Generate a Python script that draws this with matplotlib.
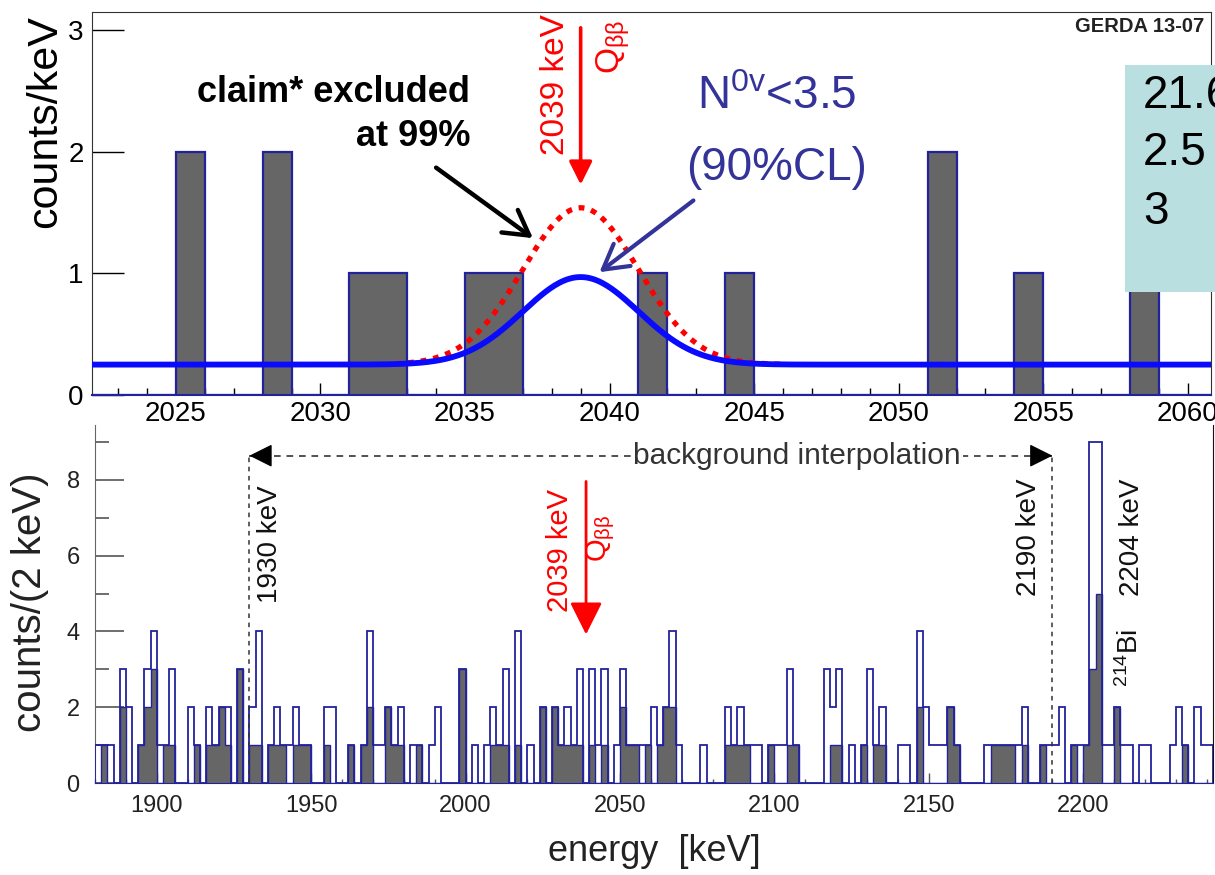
import numpy as np
import matplotlib.pyplot as plt
from matplotlib.patches import Rectangle

plt.rcParams['font.family'] = ['Liberation Sans', 'DejaVu Sans']
plt.rcParams['mathtext.fontset'] = 'custom'
plt.rcParams['mathtext.rm'] = 'Liberation Sans'
plt.rcParams['mathtext.it'] = 'Liberation Sans:italic'
plt.rcParams['mathtext.bf'] = 'Liberation Sans:bold'

# ---- top panel: 1 keV bins around Q_bb ----
zoom_start = 2022
zoom_counts = [0, 0, 0, 2, 0, 0, 2, 0, 0, 1, 1, 0, 0, 1, 1, 0, 0, 0, 0, 1,
               0, 0, 1, 0, 0, 0, 0, 0, 0, 2, 0, 0, 1, 0, 0, 0, 1, 0, 0]
# fitted lines: flat background + gaussian at Q_bb
q_bb = 2039.0
bkg_level = 0.25
sigma_keV = 2.0
peak_limit = 0.72      # 90% CL upper limit (blue)
peak_claim = 1.29      # claim (red dotted)

# ---- bottom panel: 2 keV bins, 1880 - 2242 keV ----
spec_start = 1880
bin_width = 2
counts_all = [1, 1, 1, 0, 3, 2, 0, 1, 3, 4, 1, 1, 3, 0, 0, 2, 1, 0, 2, 1,
              2, 2, 0, 3, 0, 2, 4, 0, 1, 2, 1, 1, 2, 1, 1, 0, 0, 2, 2, 0,
              0, 1, 0, 1, 4,
              1, 1, 2, 1, 2, 0, 1, 1, 0, 1, 2, 0, 0, 0, 3, 0, 1, 0, 1, 2,
              1, 3, 0, 4, 0, 1, 0, 2, 0, 2, 1, 2, 1, 3, 0, 3, 1, 3, 0, 1,
              3, 1, 1, 1, 1,
              2, 1, 2, 4, 1, 0, 0, 0, 1, 0, 0, 0, 2, 1, 2, 1, 1, 1, 0, 1,
              1, 1, 3, 1, 0, 0, 0, 0, 3, 2, 3, 0, 1, 0, 1, 3, 1, 2, 0, 0,
              1, 1, 0, 4, 2,
              1, 1, 1, 2, 1, 0, 0, 0, 0, 1, 1, 1, 1, 1, 1, 2, 0, 0, 1, 1,
              1, 2, 0, 1, 1, 1, 9, 9, 1, 1, 2, 1, 1, 0, 1, 1, 0, 0, 0, 1,
              2, 1, 0, 2, 1, 1]
counts_psd = [0, 1, 0, 0, 2, 0, 0, 1, 2, 3, 0, 1, 1, 0, 0, 0, 1, 0, 1, 1,
              2, 1, 0, 3, 0, 1, 1, 0, 1, 1, 1, 0, 1, 1, 1, 0, 0, 1, 0, 0,
              0, 1, 0, 1, 2,
              0, 0, 2, 1, 1, 0, 0, 1, 0, 0, 0, 0, 0, 0, 3, 0, 0, 0, 0, 1,
              1, 1, 0, 1, 0, 0, 0, 2, 0, 2, 1, 1, 1, 1, 0, 1, 0, 1, 0, 0,
              2, 1, 1, 0, 1,
              0, 1, 2, 2, 0, 0, 0, 0, 0, 0, 0, 0, 1, 1, 1, 1, 0, 0, 0, 1,
              0, 0, 1, 1, 0, 0, 0, 0, 0, 1, 1, 0, 0, 0, 1, 0, 1, 1, 0, 0,
              0, 0, 0, 2, 0,
              0, 0, 0, 2, 1, 0, 0, 0, 0, 0, 1, 1, 1, 1, 0, 1, 0, 0, 1, 0,
              0, 0, 0, 1, 0, 1, 3, 5, 0, 0, 2, 0, 0, 0, 0, 0, 0, 0, 0, 0,
              0, 1, 0, 0, 0, 0]
window_lo, window_hi = 1930, 2190

grey = '#666666'
navy = '#22229c'
dark_blue = '#333399'
qbb_label = r'Q$_{\mathrm{ββ}}$'

W, H = 1215, 875
fig = plt.figure(figsize=(W / 100, H / 100), dpi=100)


def fx(x):
    return x / W


def fy(y):
    return 1 - y / H


ax1 = fig.add_axes([fx(92), fy(395), fx(1211) - fx(92), fy(12) - fy(395)])
ax2 = fig.add_axes([fx(95), fy(783), fx(1213) - fx(95), fy(425) - fy(783)])
for a in (ax1, ax2):
    a.patch.set_alpha(0)

# ---------------- top panel ----------------
zedges = np.arange(zoom_start, zoom_start + len(zoom_counts) + 1)
ax1.stairs(zoom_counts, zedges, fill=True, color=grey, zorder=2)
ax1.stairs(zoom_counts, zedges, color=navy, lw=1.6, zorder=3)

e_all = np.linspace(2022, 2062, 801)
g_all = np.exp(-0.5 * ((e_all - q_bb) / sigma_keV) ** 2)
e_red = np.linspace(2032.6, 2046, 300)
g_red = np.exp(-0.5 * ((e_red - q_bb) / sigma_keV) ** 2)
ax1.plot(e_red, bkg_level + peak_claim * g_red, color='#ff0000', lw=3.8,
         linestyle=(0, (1.1, 1.3)), zorder=4)
ax1.plot(e_all, bkg_level + peak_limit * g_all, color='#0a0aff', lw=4.2,
         zorder=5)

ax1.set_xlim(2022.1, 2060.8)
ax1.set_ylim(0, 3.15)
ax1.set_xticks(np.arange(2025, 2061, 5))
ax1.set_xticks(np.arange(2023, 2061, 1), minor=True)
ax1.set_yticks([0, 1, 2, 3])
ax1.tick_params(axis='x', which='major', direction='in', length=9, width=1,
                labelsize=20, pad=4)
ax1.tick_params(axis='x', which='minor', direction='in', length=5, width=1)
ax1.tick_params(axis='y', which='major', direction='in', length=23, width=1,
                labelsize=20, pad=6)
for s in ('left', 'top', 'right'):
    ax1.spines[s].set_color('#333333')
ax1.spines['bottom'].set_color(navy)
ax1.spines['bottom'].set_linewidth(1.5)

# arrows on top panel
ax1.annotate('', xy=(q_bb, 1.73), xytext=(q_bb, 3.02),
             arrowprops=dict(arrowstyle='-|>,head_length=0.7,head_width=0.35',
                             mutation_scale=20, color='#ff0000', lw=2.6,
                             shrinkA=0, shrinkB=0), zorder=6)
ax1.annotate('', xy=(2037.35, 1.29), xytext=(2034.0, 1.87),
             arrowprops=dict(arrowstyle='->,head_length=0.7,head_width=0.4',
                             mutation_scale=25, color='black', lw=3.2,
                             shrinkA=0, shrinkB=0), zorder=6)
ax1.annotate('', xy=(2039.65, 1.01), xytext=(2042.9, 1.6),
             arrowprops=dict(arrowstyle='->,head_length=0.7,head_width=0.4',
                             mutation_scale=25, color=dark_blue, lw=3.0,
                             shrinkA=0, shrinkB=0), zorder=6)

fig.text(fx(45), fy(122), 'counts/keV', rotation=90, ha='center',
         va='center', fontsize=31)
fig.text(fx(555), fy(85), '2039 keV', rotation=90, ha='center', va='center',
         fontsize=24, color='#ff0000')
fig.text(fx(613), fy(47), qbb_label, rotation=90, ha='center',
         va='center', fontsize=24, color='#ff0000')
fig.text(fx(470), fy(92), 'claim* excluded', ha='right', va='center',
         fontsize=26, fontweight='bold',
         family=['Liberation Sans Narrow', 'Liberation Sans'])
fig.text(fx(470), fy(137), 'at 99%', ha='right', va='center',
         fontsize=26, fontweight='bold',
         family=['Liberation Sans Narrow', 'Liberation Sans'])
fig.text(fx(777), fy(97), r'N$^{\mathrm{0v}}$<3.5', ha='center', va='center',
         fontsize=33, color=dark_blue)
fig.text(fx(777), fy(168), '(90%CL)', ha='center', va='center',
         fontsize=33, color=dark_blue)
fig.text(fx(1204), fy(27), 'GERDA 13-07', ha='right', va='center',
         fontsize=14.5, fontweight='bold', color='#222222')

box = Rectangle((fx(1125), fy(292)), fx(1230) - fx(1125), fy(65) - fy(292),
                transform=fig.transFigure, facecolor='#b9dfe1',
                edgecolor='none', zorder=10)
fig.patches.append(box)
for txt, yy in [('21.6', 96), ('2.5', 153), ('3', 212)]:
    fig.text(fx(1143), fy(yy), txt, ha='left', va='center', fontsize=33,
             color='black', zorder=11)

# ---------------- bottom panel ----------------
edges = spec_start + bin_width * np.arange(len(counts_all) + 1)
ax2.stairs(counts_psd, edges, fill=True, color=grey, zorder=2)
ax2.stairs(counts_psd, edges, color=navy, lw=1.0, zorder=3)
ax2.stairs(counts_all, edges, color=navy, lw=1.3, zorder=4)

ax2.set_xlim(1880, 2242)
ax2.set_ylim(0, 9.45)
ax2.set_xticks(np.arange(1900, 2201, 50))
ax2.set_xticks(np.arange(1880, 2241, 10), minor=True)
ax2.set_yticks([0, 2, 4, 6, 8])
ax2.set_yticks([1, 3, 5, 7, 9], minor=True)
ax2.tick_params(axis='x', which='major', direction='in', length=7, width=1,
                labelsize=17, pad=9, color='#555555', labelcolor='#222222')
ax2.tick_params(axis='x', which='minor', direction='in', length=3, width=1,
                color='#555555')
ax2.tick_params(axis='y', which='major', direction='in', length=21, width=1.2,
                labelsize=17, pad=11, color='#555555', labelcolor='#222222')
ax2.tick_params(axis='y', which='minor', direction='in', length=10, width=1.2,
                color='#555555')
ax2.spines['top'].set_visible(False)
ax2.spines['left'].set_color('#666666')
ax2.spines['right'].set_color('#111111')
ax2.spines['bottom'].set_color(navy)
ax2.set_xlabel('energy  [keV]', fontsize=26, labelpad=12, color='#222222')
fig.text(fx(30), fy(602), 'counts/(2 keV)', rotation=90, ha='center',
         va='center', fontsize=29, color='#222222')

# background interpolation window
y_arrow = 8.64
ax2.plot([window_lo, window_hi], [y_arrow, y_arrow], color='#333333', lw=1.2,
         linestyle=(0, (4, 3.5)), zorder=5)
for xv in (window_lo, window_hi):
    ax2.plot([xv, xv], [0, y_arrow], color='#333333', lw=1.1,
             linestyle=(0, (3, 3)), zorder=5)
ax2.annotate('', xy=(window_lo, y_arrow), xytext=(window_lo + 6, y_arrow),
             arrowprops=dict(arrowstyle='-|>,head_length=0.8,head_width=0.4',
                             mutation_scale=18, color='black', lw=1,
                             shrinkA=0, shrinkB=0), zorder=6)
ax2.annotate('', xy=(window_hi, y_arrow), xytext=(window_hi - 6, y_arrow),
             arrowprops=dict(arrowstyle='-|>,head_length=0.8,head_width=0.4',
                             mutation_scale=18, color='black', lw=1,
                             shrinkA=0, shrinkB=0), zorder=6)
ax2.text(2107.4, y_arrow, 'background interpolation', ha='center',
         va='center', fontsize=21.5, color='#333333', zorder=7,
         bbox=dict(facecolor='white', edgecolor='none', pad=1.5))

ax2.annotate('', xy=(q_bb, 3.92), xytext=(q_bb, 7.96),
             arrowprops=dict(arrowstyle='-|>,head_length=0.9,head_width=0.45',
                             mutation_scale=22, color='#ff0000', lw=2.0,
                             shrinkA=0, shrinkB=0), zorder=6)
ax2.text(2030.7, 6.15, '2039 keV', rotation=90, ha='center', va='center',
         fontsize=21, color='#ff0000')
ax2.text(2043.8, 6.45, qbb_label, rotation=90, ha='center',
         va='center', fontsize=21, color='#ff0000')
ax2.text(1936.8, 6.3, '1930 keV', rotation=90, ha='center', va='center',
         fontsize=20, color='#111111')
ax2.text(2182.5, 6.48, '2190 keV', rotation=90, ha='center', va='center',
         fontsize=20, color='#111111')
ax2.text(2215.9, 6.48, '2204 keV', rotation=90, ha='center', va='center',
         fontsize=20, color='#111111')
ax2.text(2215.3, 3.3, r'$^{214}$Bi', rotation=90, ha='center', va='center',
         fontsize=20, color='#111111')

fig.savefig('out.png', dpi=100)
